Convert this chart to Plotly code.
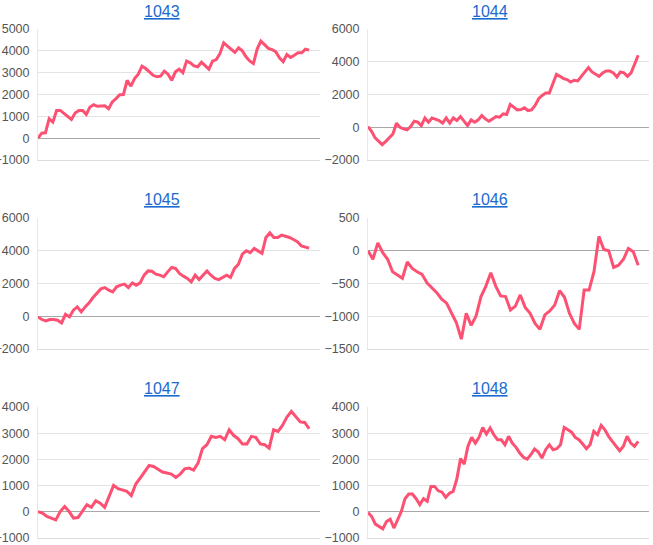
import plotly.graph_objects as go

titles = ["1043", "1044", "1045", "1046", "1047", "1048"]

s1043 = [0, 230, 245, 890, 735, 1270, 1270, 1120, 965, 860, 1150, 1270, 1270, 1090, 1430,
         1530, 1460, 1460, 1480, 1350, 1660, 1810, 1990, 2000, 2650, 2380, 2730, 2930, 3300,
         3190, 3040, 2880, 2810, 2840, 3070, 2930, 2650, 3040, 3160, 3000, 3530, 3450, 3310,
         3270, 3480, 3340, 3160, 3530, 3600, 3880, 4370, 4220, 4060, 3930, 4140, 4000, 3730,
         3540, 3420, 4080, 4450, 4260, 4110, 4060, 3960, 3680, 3500, 3830, 3700, 3800, 3910,
         3910, 4080, 4030]
s1044 = [40, -250, -650, -860, -1060, -860, -610, -410, 250, 0, -100, -160, 40, 370, 310,
         100, 570, 310, 570, 510, 410, 250, 570, 250, 570, 410, 650, 370, 100, 450, 310, 450,
         720, 510, 370, 510, 650, 610, 820, 780, 1390, 1230, 1060, 1080, 1190, 1020, 1060,
         1330, 1740, 1940, 2090, 2090, 2660, 3230, 3110, 2970, 2910, 2760, 2870, 2830, 3110,
         3380, 3640, 3380, 3230, 3110, 3320, 3440, 3440, 3320, 3070, 3380, 3320, 3110, 3320,
         3890, 4400]
s1045 = [-40, -200, -290, -200, -200, -240, -410, 120, -40, 370, 570, 270, 570, 820, 1140,
         1430, 1670, 1750, 1590, 1490, 1800, 1900, 1960, 1750, 2040, 1900, 2040, 2510, 2770,
         2750, 2570, 2510, 2410, 2710, 2980, 2920, 2610, 2450, 2310, 2100, 2510, 2240, 2510,
         2770, 2510, 2310, 2240, 2370, 2510, 2370, 2920, 3180, 3790, 4000, 3880, 4140, 4000,
         3840, 4810, 5100, 4810, 4810, 4960, 4900, 4810, 4690, 4550, 4300, 4240, 4160]
s1046 = [0, -130, 120, -30, -130, -320, -370, -420, -170, -270, -320, -360, -490, -560, -640,
         -740, -800, -950, -1100, -1350, -955, -1140, -995, -700, -540, -335, -540, -690,
         -700, -905, -845, -675, -865, -955, -1110, -1200, -980, -920, -830, -610, -710, -955,
         -1110, -1200, -600, -600, -320, 220, 20, 0, -255, -220, -130, 35, -15, -220]
s1047 = [10, -50, -180, -240, -310, 10, 200, 10, -240, -220, 10, 270, 170, 420, 330, 170,
         590, 1010, 880, 840, 780, 620, 1060, 1290, 1520, 1770, 1730, 1640, 1520, 1480, 1440,
         1310, 1440, 1640, 1670, 1590, 1860, 2410, 2560, 2880, 2840, 2880, 2750, 3130, 2920,
         2790, 2590, 2590, 2880, 2840, 2590, 2560, 2430, 3130, 3070, 3300, 3620, 3830, 3610,
         3430, 3410, 3170]
s1048 = [-25, -180, -470, -560, -650, -370, -280, -620, -270, 10, 500, 680, 680, 500, 270,
         500, 400, 970, 970, 800, 750, 550, 710, 780, 1250, 2030, 1820, 2500, 2840, 2620,
         2840, 3220, 2970, 3200, 2940, 2750, 2750, 2560, 2880, 2620, 2460, 2240, 2080, 2010,
         2180, 2400, 2280, 2050, 2370, 2560, 2370, 2410, 2560, 3220, 3130, 3040, 2840, 2750,
         2590, 2410, 2560, 3070, 2940, 3300, 3130, 2880, 2690, 2500, 2330, 2500, 2880, 2620,
         2500, 2690]

series = [s1043, s1044, s1045, s1046, s1047, s1048]
y_ranges = [[-1000, 5000], [-2000, 6000], [-2000, 6000], [-1500, 500], [-1000, 4000], [-1000, 4000]]
y_dticks = [1000, 2000, 2000, 500, 1000, 1000]

W, H = 653, 545
col_px = [(38, 320), (368, 649)]
row_px = [(29, 160), (218, 349), (407, 538)]
title_y_px = [11, 199, 388]
title_x_px = [162, 490]

fig = go.Figure()
layout = dict(
    width=W, height=H, margin=dict(l=0, r=0, t=0, b=0, pad=0), autosize=False,
    paper_bgcolor="white", plot_bgcolor="white", showlegend=False,
    font=dict(family="Liberation Sans, Arial, sans-serif", size=12, color="#444"),
)
annotations = []
for i, (name, vals) in enumerate(zip(titles, series)):
    r, c = divmod(i, 2)
    n = str(i + 1) if i else ""
    xs = list(range(len(vals)))
    fig.add_trace(go.Scatter(x=xs, y=vals, mode="lines",
                             line=dict(color="#fd5173", width=3),
                             xaxis="x" + n, yaxis="y" + n, hoverinfo="skip"))
    x0, x1 = col_px[c]
    y0, y1 = row_px[r]
    layout["xaxis" + n] = dict(
        domain=[x0 / W, x1 / W], range=[0, (len(vals) - 1) * 1.04],
        showgrid=False, zeroline=False, showticklabels=False,
        showline=True, linecolor="#dcdcdc", linewidth=1, automargin=False,
        anchor="y" + n, fixedrange=True)
    layout["yaxis" + n] = dict(
        domain=[1 - y1 / H, 1 - y0 / H], range=y_ranges[i], dtick=y_dticks[i],
        tick0=0, showgrid=True, gridcolor="#e3e3e3", gridwidth=1,
        zeroline=True, zerolinecolor="#a8a8a8", zerolinewidth=1,
        showline=True, linecolor="#e8e8e8", linewidth=1, automargin=False,
        ticks="", ticklabelstandoff=5, ticklabeloverflow="allow",
        tickfont=dict(size=12.5, color="#555"),
        anchor="x" + n, fixedrange=True)
    annotations.append(dict(
        text="<span style='text-decoration:underline'>" + name + "</span>",
        x=title_x_px[c] / W, y=1 - title_y_px[r] / H, xref="paper", yref="paper",
        xanchor="center", yanchor="middle", showarrow=False,
        font=dict(size=16, color="#1a6ad0")))
layout["annotations"] = annotations
fig.update_layout(**layout)
fig.write_html("out.html", config={"responsive": False, "displayModeBar": False},
               post_script="document.body.style.margin='0';document.body.style.overflow='hidden';")
